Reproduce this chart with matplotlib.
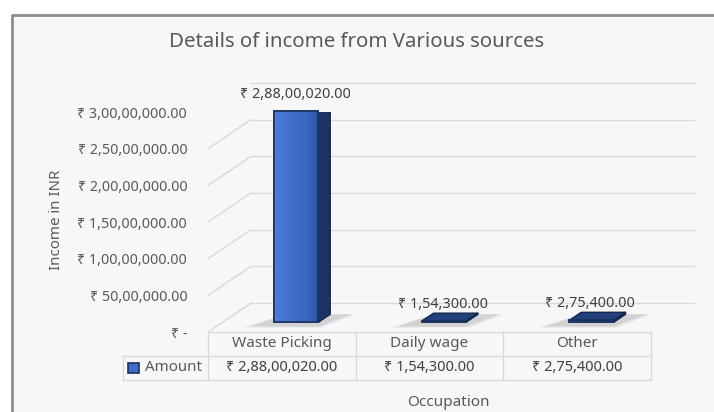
import numpy as np
import matplotlib
matplotlib.use("Agg")
import matplotlib.pyplot as plt
from matplotlib.colors import LinearSegmentedColormap
from matplotlib.patches import Polygon, Rectangle
from matplotlib.transforms import IdentityTransform, offset_copy

plt.rcParams["font.family"] = ["Noto Sans", "DejaVu Sans"]

# data
categories = ["Waste Picking", "Daily wage", "Other"]
amounts = [28800020.00, 154300.00, 275400.00]
y_ticks = [0, 5e6, 1e7, 1.5e7, 2e7, 2.5e7, 3e7]
series_name = "Amount"
title = "Details of income from Various sources"
x_title = "Occupation"
y_title = "Income in INR"

TEXT = "#595959"
GRID = "#d9d9d9"
DEPTH_DX, DEPTH_DY = 43, 29      # pixel shift from front plane to back wall
D_FRONT, D_BACK = 0.33, 0.61     # bar depth range (0 = front, 1 = back wall)
BAR_W = 0.30
ROW_H = 3.27e6                   # one data-table row in value units


def inr(v):
    if v == 0:
        return "\u20b9 -"
    whole, dec = f"{v:.2f}".split(".")
    last3, rest = whole[-3:], whole[:-3]
    groups = []
    while len(rest) > 2:
        groups.insert(0, rest[-2:])
        rest = rest[:-2]
    if rest:
        groups.insert(0, rest)
    return "\u20b9 " + ",".join(groups + [last3]) + "." + dec


fig = plt.figure(figsize=(7.14, 4.12), dpi=100)
fig.patch.set_facecolor("white")
# chart area: light fill, grey frame on the top and left only (rest is cropped)
fig.add_artist(Rectangle((12 / 714, 0), 1, 1 - 15 / 412,
                         transform=fig.transFigure, facecolor="#f7f7f7",
                         edgecolor="none", zorder=0))
fig.add_artist(plt.Line2D([12 / 714, 12 / 714, 1], [0, 1 - 15 / 412, 1 - 15 / 412],
                          transform=fig.transFigure, color="#8c8c8c", lw=2,
                          zorder=0.5))

ax = fig.add_axes([208 / 714, 80 / 412, 443 / 714, 220 / 412])
ax.set_xlim(-0.5, 2.5)
ax.set_ylim(0, 3e7)
ax.patch.set_visible(False)
for s in ax.spines.values():
    s.set_visible(False)


def depth(d):
    return offset_copy(ax.transData, fig=fig, x=DEPTH_DX * d, y=DEPTH_DY * d,
                       units="dots")


def px(x, y, d):
    p = ax.transData.transform((x, y))
    return (p[0] + DEPTH_DX * d, p[1] + DEPTH_DY * d)


ident = IdentityTransform()

# back wall + side wall gridlines
for v in y_ticks:
    ax.plot([-0.5, 2.5], [v, v], color=GRID, lw=1, transform=depth(1),
            clip_on=False, zorder=1)
    p0, p1 = px(-0.5, v, 0), px(-0.5, v, 1)
    ax.add_line(plt.Line2D([p0[0], p1[0]], [p0[1], p1[1]], color=GRID, lw=1,
                           transform=ident, zorder=1))

# bar shadows on the floor
for i in range(len(categories)):
    for k, a in enumerate([0.10, 0.14, 0.2]):
        g = 0.06 - 0.02 * k
        pts = [px(i - BAR_W / 2 - 0.10 - g, 0, D_FRONT - 0.12 - g),
               px(i + BAR_W / 2 + 0.02 + g, 0, D_FRONT - 0.12 - g),
               px(i + BAR_W / 2 + 0.12 + g, 0, D_BACK),
               px(i - BAR_W / 2, 0, D_BACK)]
        ax.add_patch(Polygon(pts, closed=True, facecolor="#9a9a9a", alpha=a,
                             edgecolor="none", transform=ident, zorder=2))

# bars: front face through ax.bar, side and top faces from the same scale
x_idx = np.arange(len(categories))
bars = ax.bar(x_idx, amounts, width=BAR_W, transform=depth(D_FRONT),
              color="#3d6cc6", edgecolor="#1c3260", lw=1.2, zorder=3,
              clip_on=False)
blue = LinearSegmentedColormap.from_list(
    "b", ["#4f80d8", "#4474cf", "#3d6cc6", "#3765bf", "#2d55a6"])
grad = np.linspace(0, 1, 64).reshape(1, -1)
for i, (rect, v) in enumerate(zip(bars, amounts)):
    x0, x1 = i - BAR_W / 2, i + BAR_W / 2
    im = ax.imshow(grad, extent=(x0, x1, 0, v), transform=depth(D_FRONT),
                   aspect="auto", cmap=blue, zorder=3.05, interpolation="bilinear")
    im.set_clip_path(rect)
    side = [px(x1, 0, D_FRONT), px(x1, 0, D_BACK), px(x1, v, D_BACK),
            px(x1, v, D_FRONT)]
    ax.add_patch(Polygon(side, closed=True, facecolor="#1b3363",
                         edgecolor="#14264b", lw=1.0, joinstyle="round",
                         transform=ident, zorder=3.1))
    top = [px(x0, v, D_FRONT), px(x1, v, D_FRONT), px(x1, v, D_BACK),
           px(x0, v, D_BACK)]
    ax.add_patch(Polygon(top, closed=True, facecolor="#213f7a",
                         edgecolor="#14264b", lw=1.0, joinstyle="round",
                         transform=ident, zorder=3.2))
    ax.add_patch(Rectangle((x0, 0), BAR_W, v, transform=depth(D_FRONT),
                           facecolor="none", edgecolor="#1c3260", lw=1.2,
                           joinstyle="round", zorder=3.3, clip_on=False))
    ax.annotate(inr(v), (i, v), xycoords=depth((D_FRONT + D_BACK) / 2),
                xytext=(-7, 13), textcoords="offset pixels", ha="center",
                va="center", fontsize=10.4, color="#404040", zorder=5)

# y axis
ax.set_yticks(y_ticks, [inr(v) for v in y_ticks])
ax.tick_params(axis="y", length=0, pad=15, labelsize=10.3, labelcolor=TEXT)
ax.set_xticks([])

# data table
t_kw = dict(color=GRID, lw=1, clip_on=False, zorder=1)
ax.plot([-0.5, 2.5], [0, 0], **t_kw)
ax.plot([-1.075, 2.5], [-ROW_H, -ROW_H], **t_kw)
ax.plot([-1.075, 2.5], [-2 * ROW_H, -2 * ROW_H], **t_kw)
ax.plot([-1.075, -1.075], [-ROW_H, -2 * ROW_H], **t_kw)
for xb in [-0.5, 0.5, 1.5, 2.5]:
    ax.plot([xb, xb], [0, -2 * ROW_H], **t_kw)
for i, (c, v) in enumerate(zip(categories, amounts)):
    ax.text(i, -ROW_H * 0.47, c, ha="center", va="center", fontsize=11,
            color=TEXT, clip_on=False)
    ax.text(i, -ROW_H * 1.5, inr(v), ha="center", va="center", fontsize=10.5,
            color="#404040", clip_on=False)
ax.add_patch(Rectangle((-1.04, -ROW_H * 1.72), 0.075, ROW_H * 0.44,
                       facecolor="#3d6cc6", edgecolor="#1c3260", lw=1.2,
                       clip_on=False, zorder=3))
ax.text(-0.927, -ROW_H * 1.5, series_name, ha="left", va="center",
        fontsize=10.8, color=TEXT, clip_on=False)

# titles
fig.text(357 / 714, 1 - 42 / 412, title, ha="center", va="center",
         fontsize=14.7, color=TEXT)
fig.text(57 / 714, 1 - 220 / 412, y_title, ha="center", va="center",
         rotation=90, fontsize=10.8, color=TEXT)
fig.text(448 / 714, 1 - 403 / 412, x_title, ha="center", va="center",
         fontsize=11, color=TEXT)

ax.set_xlim(-0.5, 2.5)
ax.set_ylim(0, 3e7)
fig.savefig("out.png", dpi=100)
plt.close(fig)
